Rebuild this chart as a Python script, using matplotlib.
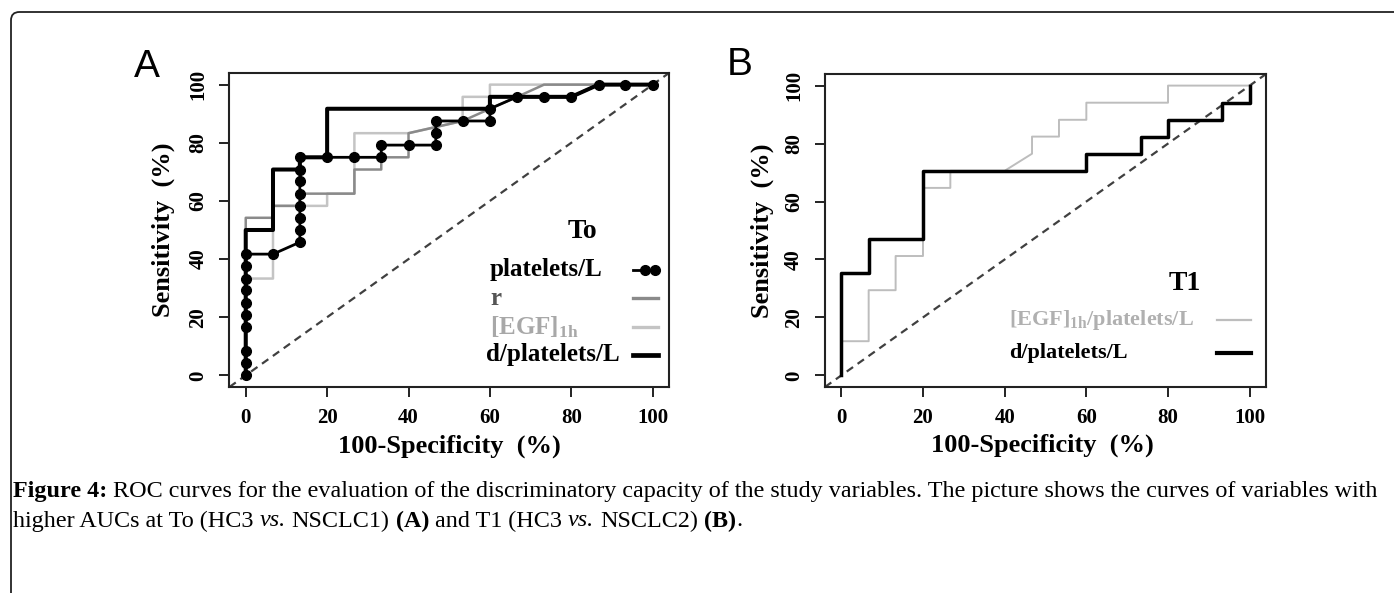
import matplotlib
matplotlib.use("Agg")
import matplotlib.pyplot as plt
from matplotlib.lines import Line2D
from matplotlib.patches import FancyBboxPatch

plt.rcParams['font.family'] = ['Liberation Serif', 'DejaVu Serif']
plt.rcParams['mathtext.fontset'] = 'custom'
plt.rcParams['mathtext.rm'] = 'Liberation Serif'
plt.rcParams['mathtext.bf'] = 'Liberation Serif:bold'
plt.rcParams['mathtext.it'] = 'Liberation Serif:italic'

# ---- panel A (To) ----
platelets_x = [0, 0, 0, 0, 0, 0, 0, 0, 0, 0, 6.7,
               13.3, 13.3, 13.3, 13.3, 13.3, 13.3, 13.3, 13.3,
               20, 26.7, 33.3, 33.3, 40, 46.7, 46.7, 46.7, 53.3, 60, 60,
               66.7, 73.3, 80, 86.7, 93.3, 100]
platelets_y = [0, 4.2, 8.3, 16.7, 20.8, 25, 29.2, 33.3, 37.5, 41.7, 41.7,
               45.8, 50, 54.2, 58.3, 62.5, 66.7, 70.8, 75,
               75, 75, 75, 79.2, 79.2, 79.2, 83.3, 87.5, 87.5, 87.5, 91.7,
               95.8, 95.8, 95.8, 100, 100, 100]

dpl_a_x = [0, 0, 6.7, 6.7, 13.3, 13.3, 20, 20, 60, 60, 80, 86.7, 100]
dpl_a_y = [0, 50, 50, 70.8, 70.8, 75, 75, 91.7, 91.7, 95.8, 95.8, 100, 100]

r_x = [0, 0, 6.7, 6.7, 13.3, 13.3, 26.7, 26.7, 33.3, 33.3, 40, 40, 53.3, 60, 66.7, 73.3, 100]
r_y = [0, 54.2, 54.2, 58.3, 58.3, 62.5, 62.5, 70.8, 70.8, 75, 75, 83.3, 87.5, 91.7, 95.8, 100, 100]

egf_a_x = [0, 0, 6.7, 6.7, 20, 20, 26.7, 26.7, 40, 53.3, 53.3, 60, 60, 100]
egf_a_y = [0, 33.3, 33.3, 58.3, 58.3, 62.5, 62.5, 83.3, 83.3, 87.5, 95.8, 95.8, 100, 100]

# ---- panel B (T1) ----
egf_b_x = [0, 0, 6.7, 6.7, 13.3, 13.3, 20, 20, 26.7, 26.7, 40, 46.7, 46.7,
           53.3, 53.3, 60, 60, 80, 80, 100]
egf_b_y = [0, 11.8, 11.8, 29.4, 29.4, 41.2, 41.2, 64.7, 64.7, 70.6, 70.6, 76.5, 82.4,
           82.4, 88.2, 88.2, 94.1, 94.1, 100, 100]

dpl_b_x = [0, 0, 6.7, 6.7, 20, 20, 60, 60, 73.3, 73.3, 80, 80, 93.3, 93.3, 100, 100]
dpl_b_y = [0, 35.3, 35.3, 47.1, 47.1, 70.6, 70.6, 76.5, 76.5, 82.4, 82.4, 88.2, 88.2, 94.1, 94.1, 100]

ticks = [0, 20, 40, 60, 80, 100]
diag = [0, 100]

labels_a = ['platelets/L', 'r', r'[EGF]$_{\mathbf{1h}}$', 'd/platelets/L']
labels_b = [r'[EGF]$_{\mathbf{1h}}$/platelets/L', 'd/platelets/L']

DARK = '#8a8a8a'
LIGHT = '#c4c4c4'

fig = plt.figure(figsize=(13.94, 5.93), dpi=100)

# outer frame (only the top-left part lies inside the picture)
frame = FancyBboxPatch((11 / 1394, -0.2), 1.2, (593 - 12) / 593 + 0.2,
                       boxstyle="round,pad=0,rounding_size=0.006",
                       mutation_aspect=1394 / 593,
                       transform=fig.transFigure, fill=False,
                       lw=1.3, ec='#222222')
fig.patches.append(frame)

axA = fig.add_axes([0.1646, 0.3474, 0.3153, 0.5295])
axB = fig.add_axes([0.5918, 0.3474, 0.3164, 0.5278])


def style_axes(ax):
    ax.set_xlim(-4, 104)
    ax.set_ylim(-4, 104)
    ax.set_xticks(ticks)
    ax.set_yticks(ticks)
    for s in ax.spines.values():
        s.set_linewidth(1.5)
        s.set_color('#222222')
    ax.tick_params(direction='out', length=7, width=1.4, color='#222222',
                   labelsize=15, pad=8)
    ax.tick_params(axis='y', labelrotation=90)
    for lab in ax.get_xticklabels() + ax.get_yticklabels():
        lab.set_fontweight('bold')
    for lab in ax.get_yticklabels():
        lab.set_va('center')
    ax.axline((diag[0], diag[0]), (diag[1], diag[1]), color='#404040',
              lw=1.6, ls=(0, (3.5, 2.5)), zorder=1)


def key(ax, x0, x1, y, **kw):
    # legend key drawn in axes fraction
    ax.add_line(Line2D([x0, x1], [y, y], transform=ax.transAxes, **kw))


style_axes(axA)
style_axes(axB)

# panel A curves
axA.plot(egf_a_x, egf_a_y, color=LIGHT, lw=1.8, zorder=2)
axA.plot(r_x, r_y, color=DARK, lw=1.8, zorder=3)
axA.plot(dpl_a_x, dpl_a_y, color='black', lw=2.9, zorder=4)
axA.plot(platelets_x, platelets_y, color='black', lw=2.0, marker='o',
         ms=7, zorder=5)

axA.set_xlabel('100-Specificity  (%)', fontsize=19, fontweight='bold')
axA.set_ylabel('Sensitivity  (%)', fontsize=19, fontweight='bold')
axA.xaxis.set_label_coords(0.50, -0.19)
axA.yaxis.set_label_coords(-0.151, 0.5)
axA.xaxis.label.set_va('center')
axA.yaxis.label.set_va('center')

# legend A
rows_a = [0.3726, 0.2834, 0.191, 0.1019]
cols_a = ['black', '#555555', '#a8a8a8', 'black']
left_a = [0.5927, 0.5927, 0.5927, 0.5836]
for lab, y, c, x in zip(labels_a, rows_a, cols_a, left_a):
    axA.text(x, y, lab, transform=axA.transAxes, ha='left', va='center',
             fontsize=18, fontweight='bold', color=c)
key(axA, 0.918, 0.975, rows_a[0], color='black', lw=2.0)
axA.plot([0.945, 0.968], [rows_a[0], rows_a[0]], 'o', color='black', ms=7,
         transform=axA.transAxes)
key(axA, 0.918, 0.975, rows_a[1], color=DARK, lw=2.4)
key(axA, 0.918, 0.975, rows_a[2], color=LIGHT, lw=2.4)
key(axA, 0.918, 0.975, rows_a[3], color='black', lw=3.4)
axA.text(0.804, 0.494, 'To', transform=axA.transAxes, ha='center', va='center',
         fontsize=20, fontweight='bold')

# panel B curves
axB.plot(egf_b_x, egf_b_y, color='#bdbdbd', lw=1.4, zorder=2)
axB.plot(dpl_b_x, dpl_b_y, color='black', lw=2.5, zorder=4)

axB.set_xlabel('100-Specificity  (%)', fontsize=19, fontweight='bold')
axB.set_ylabel('Sensitivity  (%)', fontsize=19, fontweight='bold')
axB.xaxis.set_label_coords(0.494, -0.185)
axB.yaxis.set_label_coords(-0.141, 0.5)
axB.xaxis.label.set_va('center')
axB.yaxis.label.set_va('center')

# legend B
rows_b = [0.214, 0.1086]
cols_b = ['#b0b0b0', 'black']
for lab, y, c in zip(labels_b, rows_b, cols_b):
    axB.text(0.417, y, lab, transform=axB.transAxes, ha='left', va='center',
             fontsize=16, fontweight='bold', color=c)
key(axB, 0.889, 0.966, rows_b[0], color='#bdbdbd', lw=1.6)
key(axB, 0.889, 0.966, rows_b[1], color='black', lw=3.0)
axB.text(0.816, 0.332, 'T1', transform=axB.transAxes, ha='center', va='center',
         fontsize=20, fontweight='bold')

# panel letters
fig.text(147 / 1394, 1 - 67 / 593, 'A', family='Liberation Sans', fontsize=28,
         ha='center', va='center')
fig.text(740 / 1394, 1 - 65 / 593, 'B', family='Liberation Sans', fontsize=28,
         ha='center', va='center')

# caption, drawn piece by piece so bold / italic parts sit inline
line1 = [('Figure 4:', 'bold', 'normal', False),
         ('ROC curves for the evaluation of the discriminatory capacity of the study '
          'variables. The picture shows the curves of variables with', 'normal', 'normal', True)]
line2 = [('higher AUCs at To (HC3', 'normal', 'normal', False),
         ('vs.', 'normal', 'italic', True),
         ('NSCLC1)', 'normal', 'normal', True),
         ('(A)', 'bold', 'normal', True),
         ('and T1 (HC3', 'normal', 'normal', True),
         ('vs.', 'normal', 'italic', True),
         ('NSCLC2)', 'normal', 'normal', True),
         ('(B)', 'bold', 'normal', True),
         ('.', 'normal', 'normal', False)]


def rich_line(parts, x, y, size):
    renderer = fig.canvas.get_renderer()
    arts = []
    for text, weight, style, space in parts:
        if space:
            x += 0.25 * size * 100 / 72 / fig.bbox.width
        t = fig.text(x, y, text, fontsize=size, fontweight=weight, fontstyle=style,
                     ha='left', va='center')
        x += t.get_window_extent(renderer).width / fig.bbox.width
        arts.append(t)
    return arts, x


x0 = 13 / 1394
arts, xend = rich_line(line1, x0, 1 - 491 / 593, 14)
size = 14 * (1372 / 1394) / (xend - x0)
for a in arts:
    a.remove()
rich_line(line1, x0, 1 - 491 / 593, size)
rich_line(line2, x0, 1 - 521 / 593, size)

fig.savefig('out.png', dpi=100)
